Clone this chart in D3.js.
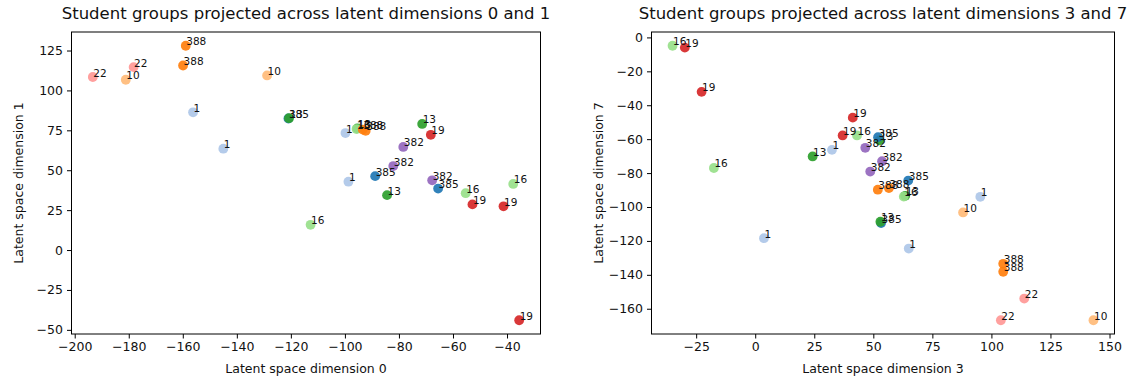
<!DOCTYPE html>
<html><head><meta charset="utf-8">
<script src="https://cdn.jsdelivr.net/npm/d3@7"></script>
<style>
body{margin:0;background:#fff}
svg{display:block}
text{font-family:"DejaVu Sans",sans-serif}
</style>
</head><body>
<svg id="c" width="1129" height="379"></svg>
<script>
// ---- data ----
const groupOrder  = ["385","1","388","10","13","16","19","22","382"];
const groupColors = ["#1f77b4","#aec7e8","#ff7f0e","#ffbb78","#2ca02c","#98df8a","#d62728","#ff9896","#9467bd"];

// Left panel: latent dimension 0 (x) vs 1 (y)
const leftLabels = ["385","13","388","388","22","22","10","10","1","1",
                    "1","13","16","388","388","13","19","382","382","385",
                    "1","13","382","385","16","16","19","19","16","19"];
const leftX = [-120.9,-120.7,-158.9,-159.9,-193.3,-178.2,-181.1,-128.8,-156.2,-145.0,
               -99.8,-95.4,-95.7,-93.4,-92.3,-71.4,-68.2,-78.4,-82.1,-88.8,
               -98.7,-84.4,-67.7,-65.5,-55.3,-37.7,-52.8,-41.3,-112.7,-35.5];
const leftY = [82.4,82.6,128.0,115.6,108.4,114.6,106.7,109.4,86.3,63.5,
               73.3,76.2,75.8,75.5,74.7,79.0,72.2,64.6,52.6,46.3,
               42.8,34.4,43.7,38.5,35.6,41.4,28.6,27.4,15.8,-44.0];

// Right panel: latent dimension 3 (x) vs 7 (y)
const rightLabels = ["16","19","19","19","19","16","13","385","382","1",
                     "13","382","382","385","388","388","13","16","385","13",
                     "1","1","10","1","388","388","22","22","10","16"];
const rightX = [-35.0,-29.8,-22.7,41.3,37.0,43.1,52.6,52.0,46.6,32.5,
                24.3,53.7,48.7,64.8,51.9,56.6,63.5,62.9,53.3,53.0,
                65.0,3.7,88.0,95.3,105.0,105.0,113.9,104.0,143.2,-17.5];
const rightY = [-4.9,-6.0,-32.1,-47.3,-57.8,-57.8,-60.7,-58.8,-65.1,-66.3,
                -70.2,-73.0,-79.1,-84.4,-89.8,-88.8,-93.4,-93.9,-109.5,-108.7,
                -124.5,-118.4,-103.2,-94.0,-133.5,-138.2,-154.0,-166.8,-166.8,-77.0];

const leftXTicks  = [-200,-180,-160,-140,-120,-100,-80,-60,-40];
const leftYTicks  = [-50,-25,0,25,50,75,100,125];
const rightXTicks = [-25,0,25,50,75,100,125,150];
const rightYTicks = [-160,-140,-120,-100,-80,-60,-40,-20,0];

const panels = [
  {title:"Student groups projected across latent dimensions 0 and 1",
   xlabel:"Latent space dimension 0", ylabel:"Latent space dimension 1",
   labels:leftLabels, xs:leftX, ys:leftY, xt:leftXTicks, yt:leftYTicks,
   box:{x:71.5,y:32,w:469,h:302}},
  {title:"Student groups projected across latent dimensions 3 and 7",
   xlabel:"Latent space dimension 3", ylabel:"Latent space dimension 7",
   labels:rightLabels, xs:rightX, ys:rightY, xt:rightXTicks, yt:rightYTicks,
   box:{x:651.5,y:32,w:463,h:302}}
];

const color = d3.scaleOrdinal().domain(groupOrder).range(groupColors);
const svg = d3.select("#c");
const fmt = v => (v<0 ? "\u2212"+Math.abs(v) : String(v));

function padded(ext){ const r=ext[1]-ext[0]; return [ext[0]-0.05*r, ext[1]+0.05*r]; }

panels.forEach(p=>{
  const b=p.box;
  const x=d3.scaleLinear().domain(padded(d3.extent(p.xs))).range([b.x,b.x+b.w]);
  const y=d3.scaleLinear().domain(padded(d3.extent(p.ys))).range([b.y+b.h,b.y]);
  const g=svg.append("g");
  const pts=p.labels.map((l,i)=>({l, x:p.xs[i], y:p.ys[i]}));

  g.append("g").selectAll("circle").data(pts).join("circle")
    .attr("cx",d=>x(d.x)).attr("cy",d=>y(d.y)).attr("r",4.9)
    .attr("fill",d=>color(d.l)).attr("fill-opacity",0.92);

  g.append("g").selectAll("text").data(pts).join("text")
    .attr("x",d=>x(d.x)+0.5).attr("y",d=>y(d.y)-0.5)
    .attr("font-size","10.5px").attr("fill","#111").text(d=>d.l);

  // axes
  const xa=g.append("g").attr("transform",`translate(0,${b.y+b.h})`)
    .call(d3.axisBottom(x).tickValues(p.xt).tickFormat(fmt).tickSize(4.5).tickPadding(4));
  const ya=g.append("g").attr("transform",`translate(${b.x},0)`)
    .call(d3.axisLeft(y).tickValues(p.yt).tickFormat(fmt).tickSize(4.5).tickPadding(4));
  [xa,ya].forEach(a=>{
    a.select(".domain").remove();
    a.selectAll("line").attr("stroke","#000").attr("stroke-width",1);
    a.selectAll("text").attr("font-size","12.5px").attr("fill","#111")
      .style("font-family",'"DejaVu Sans",sans-serif');
  });
  g.append("rect").attr("x",b.x).attr("y",b.y).attr("width",b.w).attr("height",b.h)
    .attr("fill","none").attr("stroke","#000").attr("stroke-width",1);

  g.append("text").attr("x",b.x+b.w/2).attr("y",19).attr("text-anchor","middle")
    .attr("font-size","16.5px").attr("fill","#111").text(p.title);
  g.append("text").attr("x",b.x+b.w/2).attr("y",373).attr("text-anchor","middle")
    .attr("font-size","12.5px").attr("fill","#111").text(p.xlabel);
  g.append("text").attr("transform",`translate(${b.x-49},${b.y+b.h/2}) rotate(-90)`)
    .attr("text-anchor","middle").attr("font-size","12.5px").attr("fill","#111").text(p.ylabel);
});
</script>
</body></html>
